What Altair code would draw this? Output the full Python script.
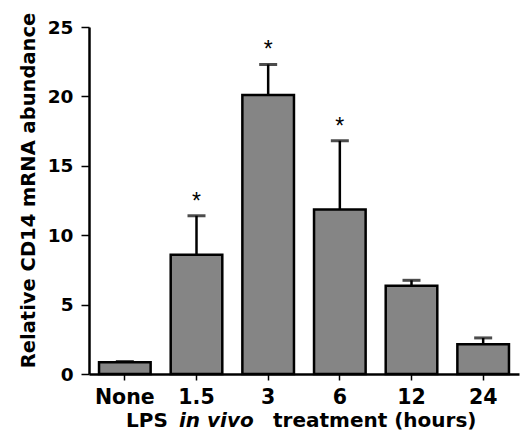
import altair as alt
import pandas as pd

categories = ["None", "1.5", "3", "6", "12", "24"]
means = [0.85, 8.6, 20.1, 11.85, 6.35, 2.15]
upper = [0.9, 11.4, 22.3, 16.8, 6.75, 2.6]
stars = ["", "*", "*", "*", "", ""]

df = pd.DataFrame({"cat": categories, "mean": means, "upper": upper, "star": stars})

W, H = 430, 347
FONT = "DejaVu Sans"

x = alt.X("cat:N", sort=categories, title=None,
          scale=alt.Scale(paddingInner=0.28, paddingOuter=0.14),
          axis=alt.Axis(labelAngle=0, labelFontSize=20.5, labelFontWeight="bold",
                        labelFont=FONT, labelColor="black", labelPadding=7,
                        tickSize=6, tickColor="black", tickWidth=1.5,
                        domainColor="black", domainWidth=2.5))
y_scale = alt.Scale(domain=[0, 25], nice=False)

bars = alt.Chart(df).mark_bar(color="#858585", stroke="black", strokeWidth=2.5).encode(
    x=x,
    y=alt.Y("mean:Q", scale=y_scale, title="Relative CD14 mRNA abundance",
            axis=alt.Axis(values=[0, 5, 10, 15, 20, 25], grid=False,
                          labelFontSize=18.5, labelFontWeight="bold", labelFont=FONT,
                          labelColor="black", labelPadding=8,
                          tickSize=8, tickColor="black", tickWidth=1.5,
                          domainColor="black", domainWidth=2.5,
                          titleFontSize=19.5, titleFontWeight="bold", titleFont=FONT,
                          titleColor="black", titlePadding=9,
                          titleY=163)),
)

err = alt.Chart(df).mark_rule(color="black", strokeWidth=2.5).encode(
    x=alt.X("cat:N", sort=categories),
    y=alt.Y("mean:Q", scale=y_scale),
    y2="upper:Q",
)

caps = alt.Chart(df).mark_tick(color="black", thickness=3, size=18, orient="horizontal").encode(
    x=alt.X("cat:N", sort=categories),
    y=alt.Y("upper:Q", scale=y_scale),
)

star = alt.Chart(df).mark_text(fontSize=23, font="Liberation Sans", baseline="alphabetic", dy=-7,
                               color="black").encode(
    x=alt.X("cat:N", sort=categories),
    y=alt.Y("upper:Q", scale=y_scale),
    text="star:N",
)

title_parts = [("LPS", 37, "normal"), ("in vivo", 90, "italic"), ("treatment (hours)", 184, "normal")]
tlayers = []
for txt, xp, style in title_parts:
    tlayers.append(
        alt.Chart(pd.DataFrame({"t": [txt]})).mark_text(
            fontSize=20, fontWeight="bold", fontStyle=style, font=FONT, align="left",
            baseline="middle", color="black").encode(
            x=alt.value(xp), y=alt.value(H + 47), text="t:N")
    )

chart = alt.layer(bars, err, caps, star, *tlayers).properties(
    width=W, height=H,
    padding={"left": 89, "top": 27, "right": 5, "bottom": 64},
    autosize=alt.AutoSizeParams(type="none"),
    background="white",
).configure_view(stroke=None)

chart.save("out.html", embed_options={"renderer": "svg", "actions": False})
